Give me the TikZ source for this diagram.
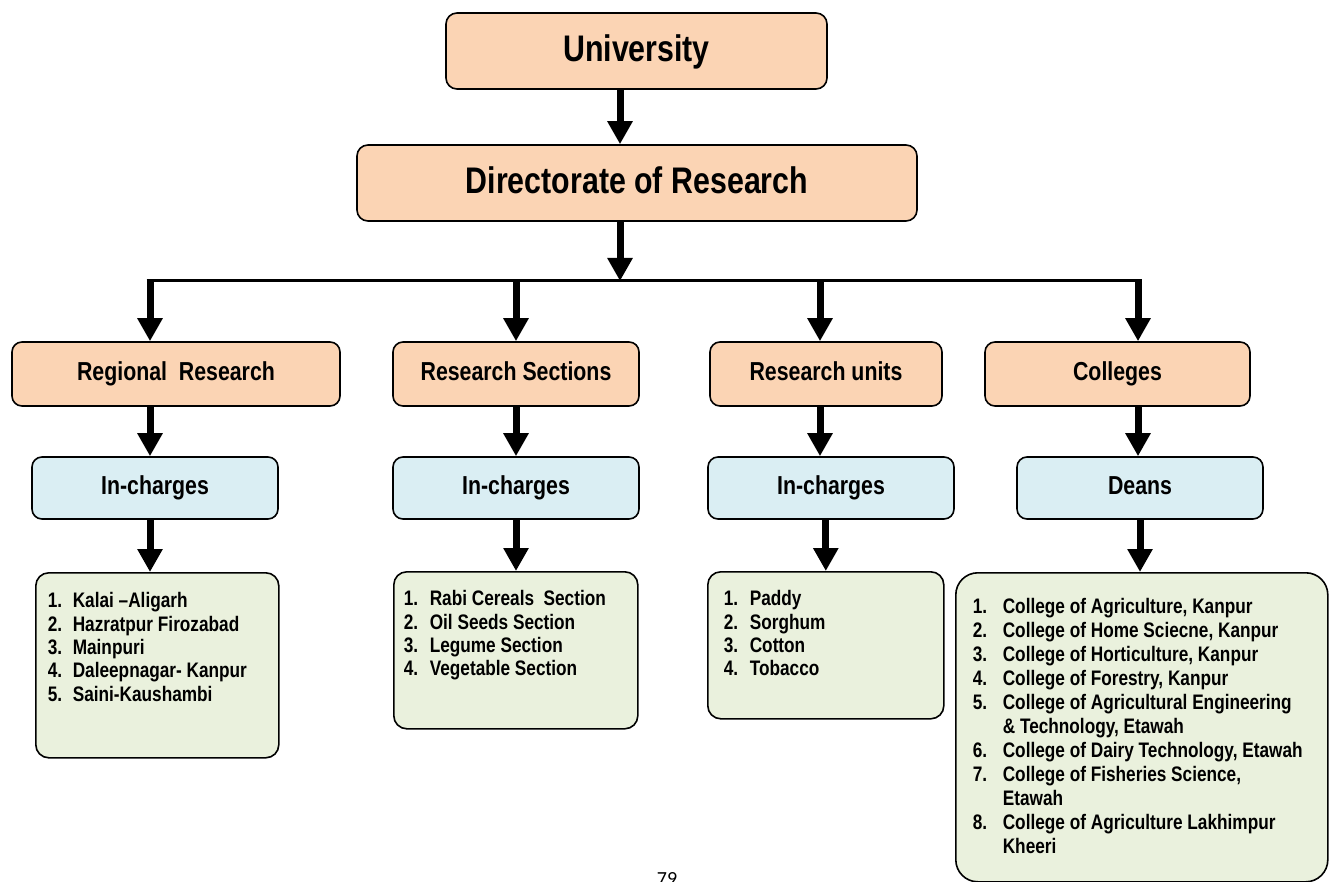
\documentclass[tikz,border=0pt]{standalone}
\usepackage{fontspec}
\usepackage{xcolor}
\usetikzlibrary{arrows.meta}
\newfontfamily\chartfont{Liberation Sans}[FakeStretch=0.82]
\newfontfamily\pagefont{Carlito}
\definecolor{peach}{HTML}{FBD4B4}
\definecolor{paleblue}{HTML}{DAEEF3}
\definecolor{palegreen}{HTML}{EAF1DD}

\begin{document}
\begin{tikzpicture}[x=1pt, y=-1pt,
		topbox/.style={draw, line width=1.6pt, rounded corners=11pt, fill=peach, inner sep=0pt, minimum height=76pt, text height=30pt, text depth=9pt, font=\chartfont\bfseries\fontsize{37}{40}\selectfont},
		headbox/.style={draw, line width=1.6pt, rounded corners=10pt, fill=peach, inner sep=0pt, minimum height=64pt, text height=19pt, text depth=7pt, font=\chartfont\bfseries\fontsize{26}{28}\selectfont},
		chargebox/.style={headbox, fill=paleblue, minimum height=62pt},
		listbox/.style={draw, line width=1.6pt, rounded corners=13pt, fill=palegreen, inner sep=0pt, anchor=north west, font=\chartfont\bfseries\fontsize{21}{23.3}\selectfont},
		flow/.style={line width=7pt, -{Triangle[width=24pt,length=23pt]}},
		busline/.style={line width=3pt}]
		\useasboundingbox (0,0) rectangle (1329,882);
		\clip (0,0) rectangle (1329,882);
		
		\node[topbox, minimum width=381pt] (univ) at (636.5,51) {University};
		\node[topbox, minimum width=560pt] (dir) at (637,183) {Directorate of Research};
		
		\node[headbox, minimum width=328pt] (reg) at (176,374) {Regional\ \ Research};
		\node[headbox, minimum width=246pt] (sec) at (516,374) {Research Sections};
		\node[headbox, minimum width=232pt] (unit) at (826,374) {Research units};
		\node[headbox, minimum width=265pt] (coll) at (1117.5,374) {Colleges};
		
		\node[chargebox, minimum width=246pt] (ic1) at (155,488) {In-charges};
		\node[chargebox, minimum width=246pt] (ic2) at (516,488) {In-charges};
		\node[chargebox, minimum width=246pt] (ic3) at (831,488) {In-charges};
		\node[chargebox, minimum width=246pt] (deans) at (1140,488) {Deans};
		
		\node[listbox] (list1) at (35,572) {\parbox[c][185pt][t]{243pt}{\vspace*{18.7pt}%
			\begin{tabular}{@{\hspace{12pt}}p{25pt}@{}l@{}}
			1. & Kalai –Aligarh\\
			2. & Hazratpur Firozabad\\
			3. & Mainpuri\\
			4. & Daleepnagar- Kanpur\\
			5. & Saini-Kaushambi
			\end{tabular}}};
		\node[listbox] (list2) at (393,571) {\parbox[c][157pt][t]{244pt}{\vspace*{17.7pt}%
			\begin{tabular}{@{\hspace{10pt}}p{26pt}@{}l@{}}
			1. & Rabi Cereals\ \ Section\\
			2. & Oil Seeds Section\\
			3. & Legume Section\\
			4. & Vegetable Section
			\end{tabular}}};
		\node[listbox] (list3) at (707,571) {\parbox[c][147pt][t]{236pt}{\vspace*{17.7pt}%
			\begin{tabular}{@{\hspace{16pt}}p{26pt}@{}l@{}}
			1. & Paddy\\
			2. & Sorghum\\
			3. & Cotton\\
			4. & Tobacco
			\end{tabular}}};
		\node[listbox, rounded corners=22pt, font=\chartfont\bfseries\fontsize{21}{24}\selectfont] (list4) at (955,572) {\parbox[c][309pt][t]{372pt}{\vspace*{24.2pt}%
			\begin{tabular}{@{\hspace{17pt}}p{30pt}@{}l@{}}
			1. & College of Agriculture, Kanpur\\
			2. & College of Home Sciecne, Kanpur\\
			3. & College of Horticulture, Kanpur\\
			4. & College of Forestry, Kanpur\\
			5. & College of Agricultural Engineering\\
			   & \& Technology, Etawah\\
			6. & College of Dairy Technology, Etawah\\
			7. & College of Fisheries Science,\\
			   & Etawah\\
			8. & College of Agriculture Lakhimpur\\
			   & Kheeri
			\end{tabular}}};
		
		\node[font=\pagefont\fontsize{20}{22}\selectfont, anchor=base, inner sep=0pt] (page) at (667,885) {79};
		
		% top of the tree
		\coordinate (bus) at (620,281);
		\coordinate (drop1) at (150,279.5);
		\coordinate (drop2) at (516,279.5);
		\coordinate (drop3) at (820,279.5);
		\coordinate (drop4) at (1138,279.5);
		\draw[flow] (univ.south -| bus) -- (dir.north -| bus);
		\draw[flow] (dir.south -| bus) -- (bus);
		\draw[busline] ([xshift=-3.5pt]drop1 |- bus) -- ([xshift=3.5pt]drop4 |- bus);
		
		% the four branches
		\draw[flow] (drop1) -- (drop1 |- reg.north);
		\draw[flow] (drop2) -- (drop2 |- sec.north);
		\draw[flow] (drop3) -- (drop3 |- unit.north);
		\draw[flow] (drop4) -- (drop4 |- coll.north);
		
		\draw[flow] (reg.south -| drop1) -- (ic1.north -| drop1);
		\draw[flow] (sec.south -| drop2) -- (ic2.north -| drop2);
		\draw[flow] (unit.south -| drop3) -- (ic3.north -| drop3);
		\draw[flow] (coll.south -| drop4) -- (deans.north -| drop4);
		
		\draw[flow] (ic1.south -| drop1) -- (list1.north -| drop1);
		\draw[flow] (ic2.south -| drop2) -- (list2.north -| drop2);
		\draw[flow] (ic3.south -| list3.north) -- (list3.north);
		\draw[flow] (deans.south) -- (deans.south |- list4.north);
	\end{tikzpicture}
\end{document}
